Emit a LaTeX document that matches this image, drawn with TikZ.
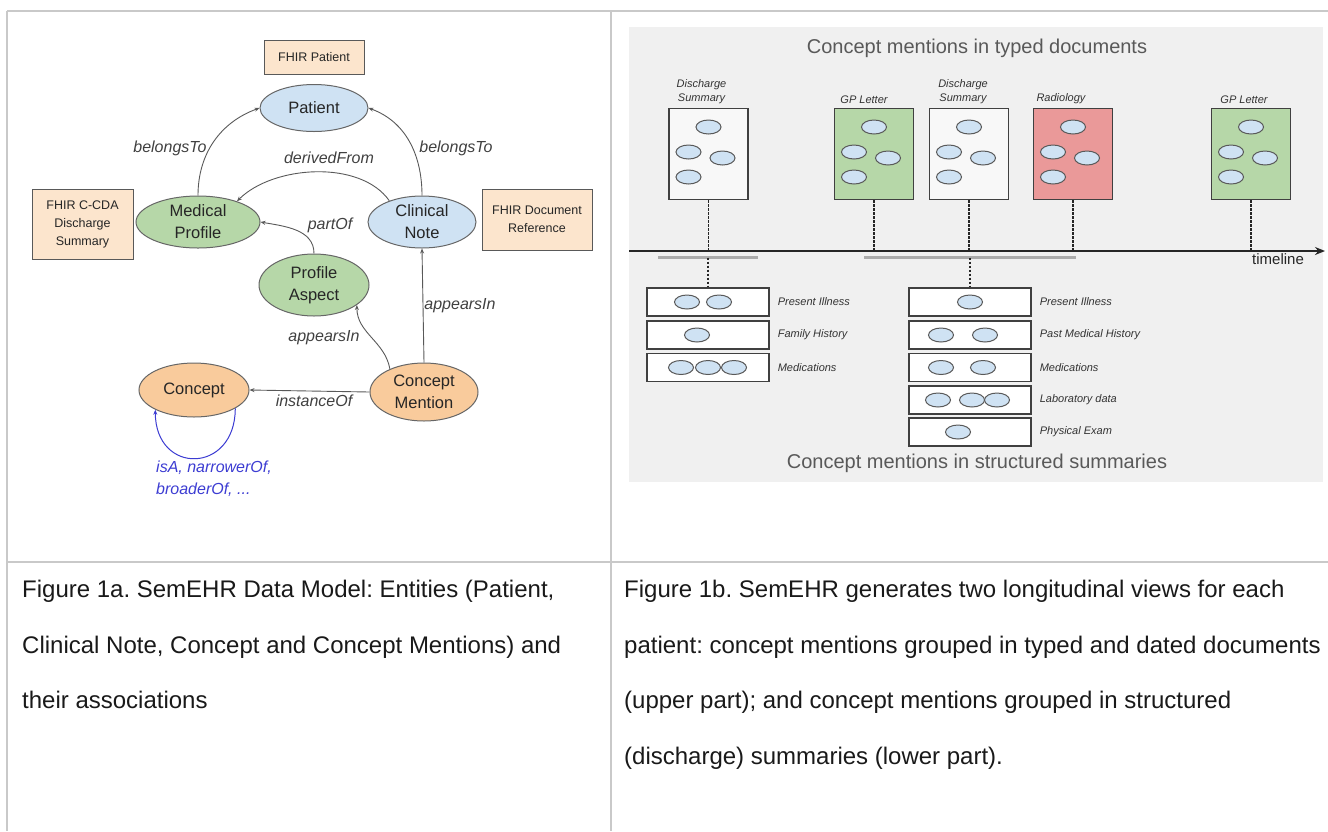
\documentclass[tikz,border=0pt]{standalone}
\usepackage{fontspec}
\setmainfont{Liberation Sans}
\usetikzlibrary{shapes.geometric,arrows.meta,positioning}
\frenchspacing

\definecolor{gridgray}{HTML}{C9C9C9}
\definecolor{fhirpeach}{HTML}{FCE5CD}
\definecolor{entblue}{HTML}{CFE2F3}
\definecolor{entgreen}{HTML}{B6D7A8}
\definecolor{entorange}{HTML}{F9CB9C}
\definecolor{loopblue}{HTML}{3C3CD2}
\definecolor{panelgray}{HTML}{F0F0F0}
\definecolor{docwhite}{HTML}{F8F8F8}
\definecolor{docgreen}{HTML}{B6D7A8}
\definecolor{docred}{HTML}{EA9999}
\definecolor{spangray}{HTML}{ABABAB}

\tikzset{
  gridline/.style={draw=gridgray, line width=2.6pt},
  caption/.style={anchor=base west, inner sep=0pt, text=black!90, font=\fontsize{24}{28}\selectfont},
  fhirbox/.style={rectangle, draw=black!65, fill=fhirpeach, line width=1pt, align=center, inner sep=0pt,
    text=black!85, font=\fontsize{12.5}{18}\selectfont},
  entity/.style={ellipse, draw=black!60, line width=1pt, inner sep=0pt, align=center,
    text=black!85, font=\fontsize{16.5}{22}\selectfont},
  relarrow/.style={draw=black!65, line width=0.9pt, -{Stealth[length=5pt,width=4pt]}},
  rellabel/.style={inner sep=0pt, text=black!75, font=\fontsize{16}{22}\selectfont\itshape},
  looparrow/.style={draw=loopblue, line width=1pt, -{Stealth[length=5pt,width=4pt]}},
  paneltitle/.style={inner sep=0pt, text=black!65, font=\fontsize{20}{24}\selectfont},
  docbox/.style={rectangle, draw=black!75, line width=1.2pt, minimum width=79pt, minimum height=91pt, inner sep=0pt},
  doclabel/.style={inner sep=1pt, align=center, text=black!80, font=\fontsize{11}{14}\selectfont\itshape},
  bubble/.style={ellipse, draw=black!65, fill=entblue, line width=1pt, minimum width=25pt, minimum height=14pt, inner sep=0pt},
  secbox/.style={rectangle, draw=black!75, fill=white, line width=1.2pt, minimum width=122pt, minimum height=28pt, inner sep=0pt},
  seclabel/.style={inner sep=0pt, text=black!80, font=\fontsize{11}{14}\selectfont\itshape},
  tickline/.style={draw=black!85, line width=1.1pt, dash pattern=on 2.5pt off 1.5pt},
  timearrow/.style={draw=black!85, line width=1.8pt, -{Stealth[length=10pt,width=8pt]}},
  spanbar/.style={draw=spangray, line width=3.5pt}
}

\begin{document}
\begin{tikzpicture}[x=1pt, y=-1pt]
\useasboundingbox (0,0) rectangle (1328,831);

% table grid
\draw[gridline] (7,11) -- (1328,11);
\draw[gridline] (7,11) -- (7,831);
\draw[gridline] (611,11) -- (611,831);
\draw[gridline] (7,562) -- (1328,562);

% data model
\node[fhirbox, minimum width=100pt, minimum height=34pt] (fhirPatient) at (314,57) {FHIR Patient};
\node[entity, fill=entblue, minimum width=108pt, minimum height=47pt] (patient) at (314,108) {Patient};
\node[entity, fill=entgreen, minimum width=124pt, minimum height=52pt] (medProfile) at (198,222) {Medical\\Profile};
\node[entity, fill=entblue, minimum width=108pt, minimum height=52pt] (clinNote) at (422,222) {Clinical\\Note};
\node[fhirbox, minimum width=101pt, minimum height=70pt] (fhirCcda) at (82.5,224) {FHIR C-CDA\\Discharge\\Summary};
\node[fhirbox, minimum width=110pt, minimum height=61pt] (fhirDocRef) at (537,219.5) {FHIR Document\\Reference};
\node[entity, fill=entgreen, minimum width=110pt, minimum height=62pt] (profAspect) at (314,285) {Profile\\Aspect};
\node[entity, fill=entorange, minimum width=110pt, minimum height=54pt] (concept) at (194,390) {Concept};
\node[entity, fill=entorange, minimum width=108pt, minimum height=58pt] (conMention) at (424,392) {Concept\\Mention};

\draw[relarrow] (medProfile.north) to[out=90, in=200] (patient.west);
\draw[relarrow] (clinNote.north) to[out=90, in=-20] (patient.east);
\draw[relarrow] (clinNote.147) to[out=125, in=45, looseness=0.85] (medProfile.28);
\draw[relarrow] (profAspect.north) to[out=90, in=-10] (medProfile.east);
\draw[relarrow] (conMention.146) to[out=100, in=-90] (profAspect.-25);
\draw[relarrow] (conMention.north) -- (clinNote.south);
\draw[relarrow] (conMention.west) -- (concept.east);
\draw[looparrow] (concept.-24) to[out=-90, in=-90, looseness=2.1] (concept.-153);

\node[rellabel] (lblBelongsL) at (170,148) {belongsTo};
\node[rellabel] (lblDerived) at (329,158) {derivedFrom};
\node[rellabel] (lblBelongsR) at (456,148) {belongsTo};
\node[rellabel] (lblPartOf) at (330,225) {partOf};
\node[rellabel] (lblAppearsL) at (324,338) {appearsIn};
\node[rellabel] (lblAppearsR) at (460,306) {appearsIn};
\node[rellabel] (lblInstance) at (314,401) {instanceOf};
\node[rellabel, text=loopblue, align=left, anchor=west] (lblConceptRel) at (156,479) {isA, narrowerOf,\\broaderOf, ...};

% longitudinal views
\fill[panelgray] (629,27) rectangle (1323,482);
\node[paneltitle] (titleTyped) at (977,48) {Concept mentions in typed documents};

\node[docbox, fill=docwhite] (docA) at (708.5,154) {};
\node[docbox, fill=docgreen] (docB) at (874,154) {};
\node[docbox, fill=docwhite] (docC) at (969,154) {};
\node[docbox, fill=docred] (docD) at (1073,154) {};
\node[docbox, fill=docgreen] (docE) at (1251,154) {};

\node[doclabel, above=3pt of docA.north, xshift=-7pt] (docAlab) {Discharge\\Summary};
\node[doclabel, above=3pt of docB.north, xshift=-10pt] (docBlab) {GP Letter};
\node[doclabel, above=3pt of docC.north, xshift=-6pt] (docClab) {Discharge\\Summary};
\node[doclabel, above=3pt of docD.north, xshift=-12pt] (docDlab) {Radiology};
\node[doclabel, above=3pt of docE.north, xshift=-7pt] (docElab) {GP Letter};

\node[bubble] (docA1) at (708.5,127) {};
\node[bubble] (docA2) at (688.5,152) {};
\node[bubble] (docA3) at (722.5,158) {};
\node[bubble] (docA4) at (688.5,177) {};

\node[bubble] (docB1) at (874,127) {};
\node[bubble] (docB2) at (854,152) {};
\node[bubble] (docB3) at (888,158) {};
\node[bubble] (docB4) at (854,177) {};

\node[bubble] (docC1) at (969,127) {};
\node[bubble] (docC2) at (949,152) {};
\node[bubble] (docC3) at (983,158) {};
\node[bubble] (docC4) at (949,177) {};

\node[bubble] (docD1) at (1073,127) {};
\node[bubble] (docD2) at (1053,152) {};
\node[bubble] (docD3) at (1087,158) {};
\node[bubble] (docD4) at (1053,177) {};

\node[bubble] (docE1) at (1251,127) {};
\node[bubble] (docE2) at (1231,152) {};
\node[bubble] (docE3) at (1265,158) {};
\node[bubble] (docE4) at (1231,177) {};

\coordinate (tlStart) at (629,251);
\coordinate (tlEnd) at (1325,251);
\draw[tickline] (docA.south) -- (docA.south |- tlStart);
\draw[tickline] (docB.south) -- (docB.south |- tlStart);
\draw[tickline] (docC.south) -- (docC.south |- tlStart);
\draw[tickline] (docD.south) -- (docD.south |- tlStart);
\draw[tickline] (docE.south) -- (docE.south |- tlStart);
\draw[timearrow] (tlStart) -- (tlEnd);
\node[inner sep=0pt, text=black!85, font=\fontsize{15}{18}\selectfont] (tlLabel) at (1278,259) {timeline};

\coordinate (spanAl) at (658,257.5);
\coordinate (spanAr) at (758,257.5);
\coordinate (spanAm) at (708,257.5);
\coordinate (spanBl) at (864,257.5);
\coordinate (spanBr) at (1076,257.5);
\coordinate (spanBm) at (970,257.5);
\draw[spanbar] (spanAl) -- (spanAr);
\draw[spanbar] (spanBl) -- (spanBr);

\node[secbox] (secA1) at (708,302) {};
\node[secbox] (secA2) at (708,335) {};
\node[secbox] (secA3) at (708,367.5) {};

\node[secbox] (secB1) at (970,302) {};
\node[secbox] (secB2) at (970,335) {};
\node[secbox] (secB3) at (970,367.5) {};
\node[secbox] (secB4) at (970,400) {};
\node[secbox] (secB5) at (970,432) {};

\draw[tickline] (spanAm) -- (secA1.north);
\draw[tickline] (spanBm) -- (secB1.north);

\node[seclabel, right=8pt of secA1.east] (secA1lab) {Present Illness};
\node[seclabel, right=8pt of secA2.east] (secA2lab) {Family History};
\node[seclabel, right=8pt of secA3.east] (secA3lab) {Medications};
\node[seclabel, right=8pt of secB1.east] (secB1lab) {Present Illness};
\node[seclabel, right=8pt of secB2.east] (secB2lab) {Past Medical History};
\node[seclabel, right=8pt of secB3.east] (secB3lab) {Medications};
\node[seclabel, right=8pt of secB4.east] (secB4lab) {Laboratory data};
\node[seclabel, right=8pt of secB5.east] (secB5lab) {Physical Exam};

\node[bubble] (secA1a) at (687,302) {};
\node[bubble] (secA1b) at (719,302) {};
\node[bubble] (secA2a) at (697,335) {};
\node[bubble] (secA3a) at (681,367.5) {};
\node[bubble] (secA3b) at (708,367.5) {};
\node[bubble] (secA3c) at (734,367.5) {};

\node[bubble] (secB1a) at (970,302) {};
\node[bubble] (secB2a) at (941,335) {};
\node[bubble] (secB2b) at (985,335) {};
\node[bubble] (secB3a) at (941,367.5) {};
\node[bubble] (secB3b) at (983,367.5) {};
\node[bubble] (secB4a) at (938,400) {};
\node[bubble] (secB4b) at (972,400) {};
\node[bubble] (secB4c) at (997,400) {};
\node[bubble] (secB5a) at (958,432) {};

\node[paneltitle] (titleStruct) at (977,463) {Concept mentions in structured summaries};

% captions
\node[caption] (capA1) at (22,597.5) {Figure 1a. SemEHR Data Model: Entities (Patient,};
\node[caption] (capA2) at (22,653) {Clinical Note, Concept and Concept Mentions) and};
\node[caption] (capA3) at (22,708.5) {their associations};

\node[caption] (capB1) at (624,597.5) {Figure 1b. SemEHR generates two longitudinal views for each};
\node[caption] (capB2) at (624,653) {patient: concept mentions grouped in typed and dated documents};
\node[caption] (capB3) at (624,708.5) {(upper part); and concept mentions grouped in structured};
\node[caption] (capB4) at (624,764) {(discharge) summaries (lower part).};
\end{tikzpicture}
\end{document}
